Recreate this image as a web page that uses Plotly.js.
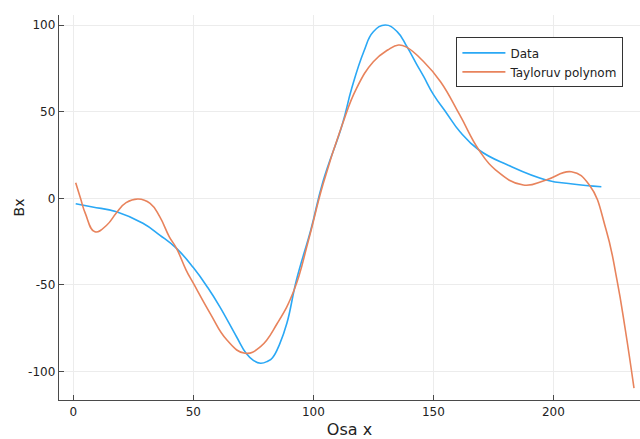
<!DOCTYPE html>
<html>
<head>
<meta charset="utf-8">
<script src="https://cdn.plot.ly/plotly-3.0.1.min.js"></script>
<style>html,body{margin:0;padding:0;background:#fff;}#chart{width:640px;height:439px;}</style>
</head>
<body>
<div id="chart"></div>
<script>
// "Data" series
const dataX = [1, 8, 18, 29, 36, 43, 50, 56, 61, 68, 72, 75, 78, 81, 83, 86, 89, 93, 99, 104, 112, 116, 121, 125, 130, 135, 139, 143, 146, 150, 155.6, 161.1, 169, 181, 197, 208, 220];
const dataY = [-3.1, -5, -7.7, -14.4, -21.2, -28.9, -40, -51.5, -62.5, -79.9, -89.4, -93.5, -95.2, -94, -92, -84, -72, -47, -18, 9.6, 42.3, 63.5, 84.6, 96.1, 100, 96.1, 87.5, 77.5, 70.2, 60, 49, 38.4, 27.9, 19.2, 10.6, 8.3, 6.7];
// "Tayloruv polynom" series
const tayX = [1, 3, 5, 9, 14, 18, 22, 27, 32, 36, 40, 43, 47, 50, 57, 64, 71.5, 78, 85, 92, 98, 104, 112, 118, 125, 131, 135.5, 139, 146, 153, 161, 169, 176, 187.5, 197, 207.5, 215, 222, 226.5, 230, 233.6];
const tayY = [9, 0, -8.7, -19.3, -15.4, -8.3, -2.5, -0.4, -2.9, -10.6, -22.2, -28.9, -41.4, -49, -66.4, -81.8, -89.4, -85.6, -72.1, -52.9, -24.1, 8, 42.3, 63.5, 78.8, 85.6, 88.5, 87.1, 78.8, 67.3, 48.1, 27.9, 16.3, 7.7, 10.6, 15.3, 7.7, -18.3, -47.1, -76, -109.6];
const seriesNames = ["Data", "Tayloruv polynom"];
const xTicks = [0, 50, 100, 150, 200];
const yTicks = [-100, -50, 0, 50, 100];
const xTickText = ["0", "50", "100", "150", "200"];
const yTickText = ["-100", "-50", "0", "50", "100"];

const traces = [
  {x: dataX, y: dataY, name: seriesNames[0], type: 'scatter', mode: 'lines',
   line: {color: '#2aa8f5', width: 1.6, shape: 'spline', smoothing: 1.3}},
  {x: tayX, y: tayY, name: seriesNames[1], type: 'scatter', mode: 'lines',
   line: {color: '#e8835c', width: 1.6, shape: 'spline', smoothing: 1.3}}
];

const axisCommon = {
  showgrid: true, gridcolor: '#ececec', gridwidth: 1,
  zeroline: false, showline: true, linecolor: '#4a4a4a', linewidth: 1.3,
  ticks: 'inside', ticklen: 5, tickwidth: 1, tickcolor: '#4a4a4a',
  tickfont: {family: 'DejaVu Sans', size: 12, color: '#222'},
  mirror: false
};

const layout = {
  width: 640, height: 439,
  margin: {l: 59, r: 0, t: 15, b: 39},
  paper_bgcolor: '#fff', plot_bgcolor: '#fff',
  font: {family: 'DejaVu Sans', color: '#222'},
  showlegend: true,
  legend: {x: 0.684, y: 0.942, xanchor: 'left', yanchor: 'top',
           bgcolor: '#fff', bordercolor: '#333', borderwidth: 1,
           font: {family: 'DejaVu Sans', size: 12, color: '#222'},
           itemwidth: 43, tracegroupgap: 0},
  xaxis: Object.assign({}, axisCommon, {
    range: [-5.96, 236.1], tickvals: xTicks, ticktext: xTickText,
    title: {text: 'Osa x', font: {family: 'DejaVu Sans', size: 16, color: '#222'}, standoff: 6}
  }),
  yaxis: Object.assign({}, axisCommon, {
    range: [-116.4, 105.8], tickvals: yTicks, ticktext: yTickText,
    title: {text: 'Bx', font: {family: 'DejaVu Sans', size: 14, color: '#222'}, standoff: 0}
  })
};

Plotly.newPlot('chart', traces, layout, {displayModeBar: false, staticPlot: true});
</script>
</body>
</html>
